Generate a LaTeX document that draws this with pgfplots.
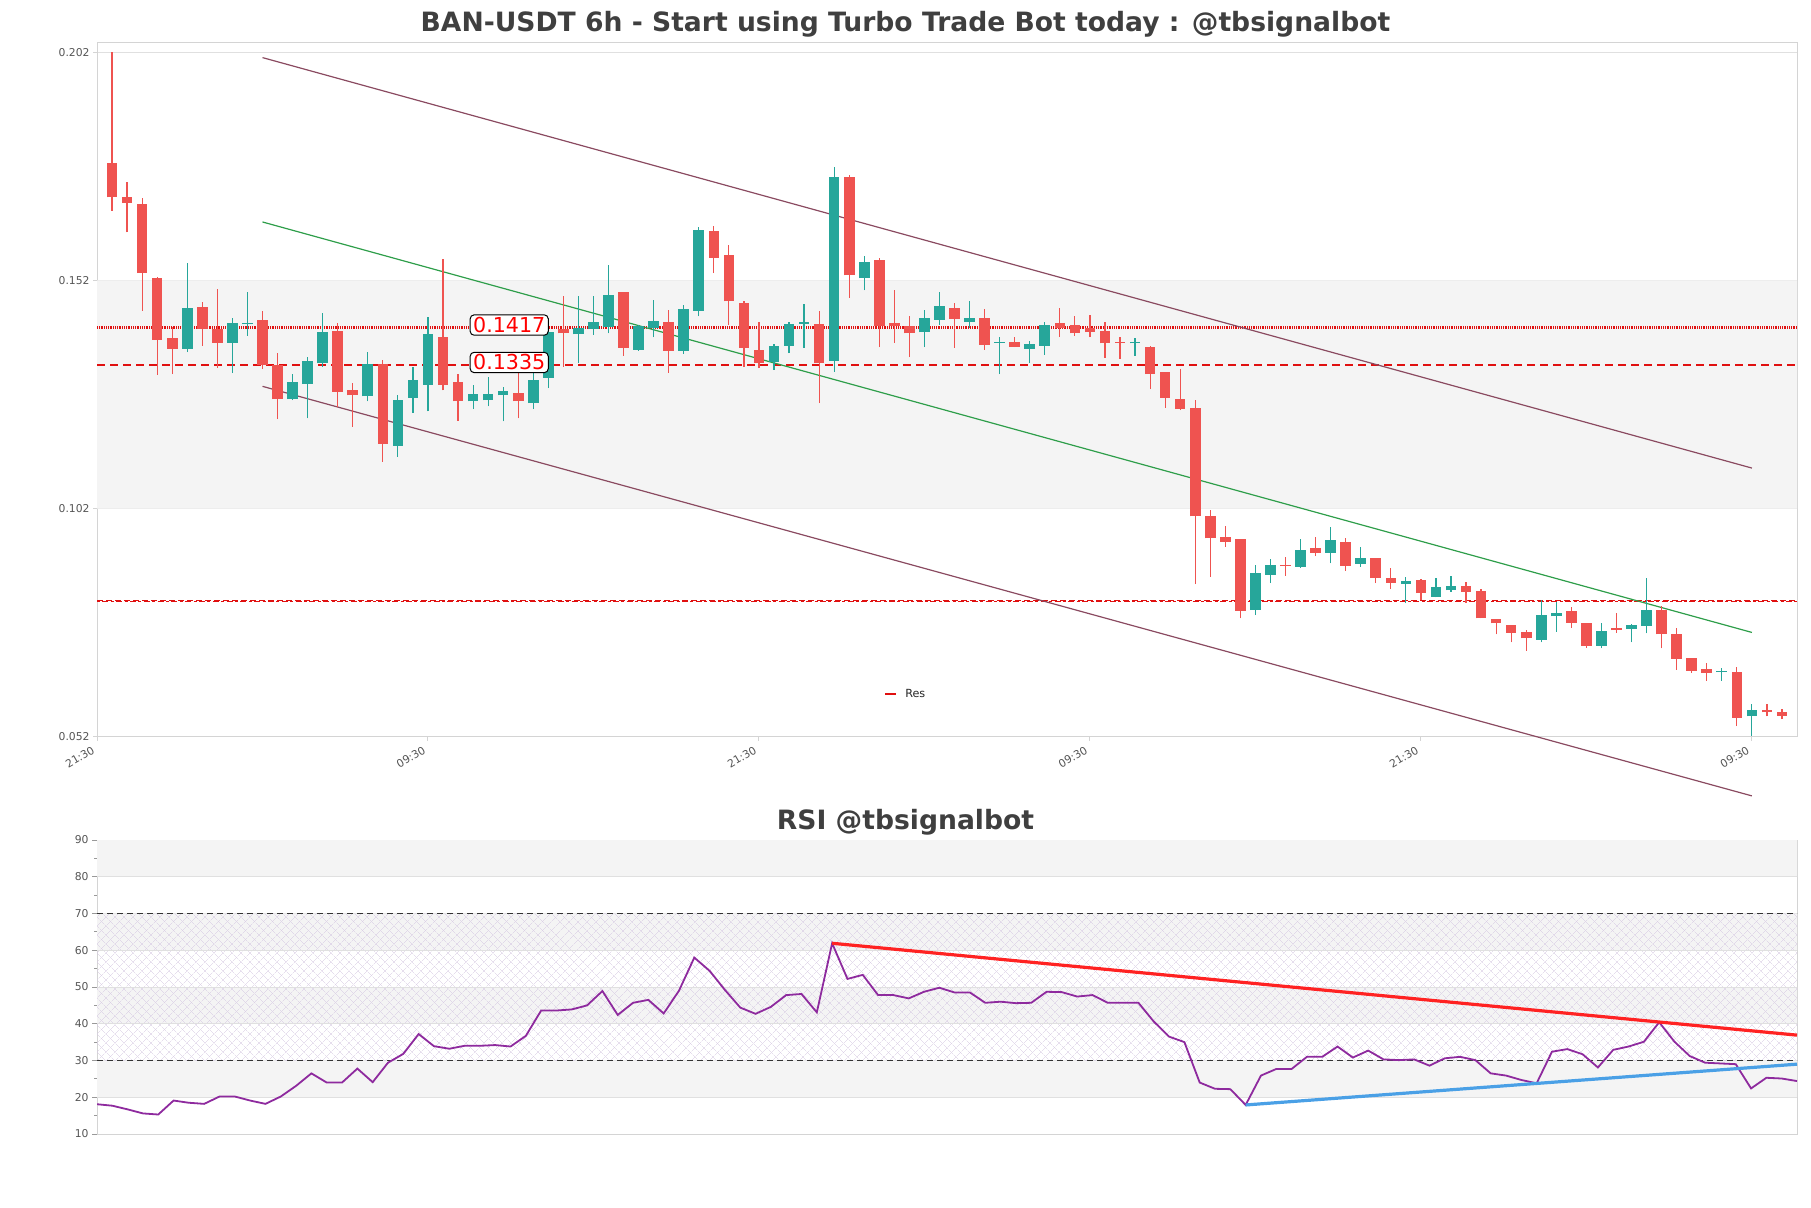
\documentclass[border=0pt]{standalone}
\usepackage{fontspec}
\setmainfont{DejaVu Sans}
\usepackage{pgfplots}
\pgfplotsset{compat=1.18}
\usepackage{pgfplotstable}
\usetikzlibrary{patterns.meta}

\definecolor{cgreen}{HTML}{26A69A}
\definecolor{cred}{HTML}{EF5350}
\definecolor{bandgray}{HTML}{F4F4F4}
\definecolor{gridgray}{HTML}{E0E0E0}
\definecolor{framegray}{HTML}{D4D4D4}
\definecolor{chan}{HTML}{8A4A60}
\definecolor{gline}{HTML}{2E9E4A}
\definecolor{titlegray}{HTML}{3F3F3F}
\definecolor{ticklab}{HTML}{555555}
\definecolor{rsipurple}{HTML}{8E2A9E}
\definecolor{hatchc}{HTML}{D8CCE4}
\definecolor{trendred}{HTML}{FF2222}
\definecolor{trendblue}{HTML}{4AA0E6}
\definecolor{resred}{HTML}{E01010}

\pgfplotstableread{
i o h l c
5 0.1370 0.1558 0.1363 0.1460
8 0.1384 0.1437 0.1317 0.1427
9 0.1424 0.1494 0.1399 0.1426
12 0.1260 0.1315 0.1258 0.1297
13 0.1294 0.1353 0.1218 0.1344
14 0.1339 0.1449 0.1331 0.1407
17 0.1266 0.1363 0.1255 0.1337
19 0.1158 0.1269 0.1134 0.1258
20 0.1263 0.1330 0.1230 0.1302
21 0.1291 0.1439 0.1233 0.1403
24 0.1255 0.1290 0.1238 0.1271
25 0.1257 0.1308 0.1244 0.1271
26 0.1268 0.1287 0.1211 0.1278
28 0.1251 0.1319 0.1238 0.1302
29 0.1307 0.1437 0.1284 0.1407
31 0.1402 0.1485 0.1339 0.1415
32 0.1413 0.1485 0.1401 0.1429
33 0.1418 0.1554 0.1404 0.1488
35 0.1368 0.1423 0.1366 0.1420
36 0.1415 0.1477 0.1395 0.1431
38 0.1366 0.1466 0.1359 0.1458
39 0.1454 0.1637 0.1441 0.1631
44 0.1342 0.1381 0.1324 0.1377
45 0.1377 0.1430 0.1361 0.1425
46 0.1425 0.1469 0.1372 0.1429
48 0.1344 0.1769 0.1320 0.1746
50 0.1525 0.1574 0.1498 0.1560
54 0.1406 0.1455 0.1374 0.1437
55 0.1434 0.1494 0.1423 0.1464
57 0.1430 0.1474 0.1415 0.1437
59 0.1383 0.1396 0.1315 0.1385
61 0.1370 0.1387 0.1340 0.1380
62 0.1377 0.1430 0.1357 0.1423
68 0.1382 0.1393 0.1355 0.1384
76 0.0798 0.0897 0.0787 0.0879
77 0.0875 0.0909 0.0857 0.0897
79 0.0893 0.0953 0.0890 0.0930
81 0.0924 0.0979 0.0900 0.0952
83 0.0899 0.0937 0.0893 0.0913
86 0.0855 0.0870 0.0813 0.0862
88 0.0827 0.0868 0.0826 0.0849
89 0.0841 0.0873 0.0838 0.0851
95 0.0733 0.0819 0.0727 0.0787
96 0.0784 0.0816 0.0751 0.0791
99 0.0720 0.0769 0.0714 0.0752
101 0.0756 0.0768 0.0727 0.0765
102 0.0764 0.0868 0.0747 0.0798
107 0.0662 0.0672 0.0643 0.0664
109 0.0565 0.0592 0.0522 0.0579
}\greentab

\pgfplotstableread{
i o h l c
0 0.1778 0.2020 0.1673 0.1702
1 0.1702 0.1735 0.1625 0.1689
2 0.1688 0.1700 0.1454 0.1536
3 0.1526 0.1528 0.1313 0.1390
4 0.1394 0.1419 0.1315 0.1370
6 0.1462 0.1472 0.1377 0.1414
7 0.1413 0.1501 0.1329 0.1384
10 0.1433 0.1452 0.1326 0.1335
11 0.1335 0.1361 0.1216 0.1260
15 0.1409 0.1426 0.1242 0.1276
16 0.1279 0.1295 0.1200 0.1268
18 0.1338 0.1346 0.1123 0.1162
22 0.1396 0.1567 0.1279 0.1291
23 0.1297 0.1315 0.1213 0.1255
27 0.1273 0.1324 0.1218 0.1255
30 0.1413 0.1486 0.1331 0.1404
34 0.1494 0.1494 0.1355 0.1372
37 0.1429 0.1455 0.1318 0.1366
40 0.1628 0.1639 0.1536 0.1570
41 0.1576 0.1598 0.1423 0.1474
42 0.1470 0.1474 0.1331 0.1373
43 0.1368 0.1430 0.1328 0.1339
47 0.1425 0.1452 0.1251 0.1339
49 0.1746 0.1751 0.1482 0.1531
51 0.1565 0.1569 0.1374 0.1420
52 0.1426 0.1499 0.1384 0.1420
53 0.1420 0.1442 0.1352 0.1404
56 0.1459 0.1470 0.1372 0.1436
58 0.1437 0.1457 0.1368 0.1379
60 0.1385 0.1396 0.1374 0.1375
63 0.1426 0.1459 0.1397 0.1415
64 0.1423 0.1442 0.1399 0.1404
65 0.1415 0.1445 0.1396 0.1407
66 0.1409 0.1429 0.1351 0.1382
67 0.1384 0.1396 0.1348 0.1383
69 0.1374 0.1377 0.1282 0.1315
70 0.1319 0.1319 0.1241 0.1263
71 0.1260 0.1325 0.1236 0.1238
72 0.1240 0.1258 0.0855 0.1003
73 0.1004 0.1017 0.0871 0.0955
74 0.0957 0.0982 0.0937 0.0948
75 0.0954 0.0954 0.0780 0.0796
78 0.0896 0.0915 0.0873 0.0894
80 0.0935 0.0957 0.0916 0.0924
82 0.0947 0.0955 0.0884 0.0895
84 0.0913 0.0913 0.0857 0.0868
85 0.0868 0.0890 0.0844 0.0858
87 0.0864 0.0865 0.0820 0.0835
90 0.0851 0.0859 0.0814 0.0838
91 0.0840 0.0844 0.0780 0.0780
92 0.0778 0.0778 0.0745 0.0769
93 0.0765 0.0765 0.0727 0.0748
94 0.0749 0.0754 0.0709 0.0736
97 0.0796 0.0805 0.0759 0.0770
98 0.0769 0.0769 0.0716 0.0720
100 0.0759 0.0791 0.0748 0.0754
103 0.0798 0.0807 0.0714 0.0745
104 0.0746 0.0758 0.0667 0.0691
105 0.0692 0.0692 0.0661 0.0665
106 0.0668 0.0683 0.0643 0.0661
108 0.0662 0.0673 0.0544 0.0562
110 0.0579 0.0592 0.0565 0.0574
111 0.0575 0.0581 0.0559 0.0567
}\redtab

\pgfplotstableread{
i r
0 18.1
1 17.7
2 16.7
3 15.6
4 15.3
5 19.1
6 18.5
7 18.2
8 20.2
9 20.2
10 19.1
11 18.2
12 20.2
13 23.1
14 26.5
15 24.0
16 24.0
17 27.8
18 24.1
19 29.4
20 31.8
21 37.2
22 33.9
23 33.2
24 34.0
25 34.0
26 34.2
27 33.8
28 36.7
29 43.6
30 43.6
31 43.9
32 45.0
33 48.9
34 42.4
35 45.7
36 46.5
37 42.8
38 49.0
39 58.0
40 54.4
41 49.2
42 44.4
43 42.7
44 44.6
45 47.8
46 48.1
47 43.1
48 61.9
49 52.2
50 53.3
51 47.8
52 47.8
53 46.9
54 48.7
55 49.8
56 48.5
57 48.5
58 45.7
59 46.0
60 45.6
61 45.7
62 48.7
63 48.6
64 47.4
65 47.8
66 45.7
67 45.7
68 45.7
69 40.6
70 36.5
71 35.0
72 24.0
73 22.3
74 22.2
75 17.9
76 25.9
77 27.7
78 27.7
79 31.0
80 31.0
81 33.8
82 30.8
83 32.7
84 30.3
85 30.1
86 30.3
87 28.6
88 30.6
89 31.0
90 30.1
91 26.5
92 25.9
93 24.7
94 23.8
95 32.4
96 33.1
97 31.7
98 28.1
99 32.9
100 33.8
101 35.1
102 40.4
103 35.1
104 31.2
105 29.4
106 29.2
107 29.0
108 22.4
109 25.3
110 25.1
111 24.4
}\rsitab

\tikzset{
  tickfont/.style={font=\fontsize{5.4bp}{6.5bp}\selectfont, text=ticklab},
}

\begin{document}
\begin{tikzpicture}
\path[use as bounding box] (0,0) rectangle (905.5bp,604bp);

\node[anchor=base, font=\fontsize{13.3bp}{16bp}\selectfont\bfseries, text=titlegray, inner sep=0pt]
  at (452.75bp,588.2bp) {BAN-USDT 6h - Start using Turbo Trade Bot today : @tbsignalbot};

\begin{axis}[
  at={(48.5bp,235.5bp)}, anchor=south west,
  width=850bp, height=347bp, scale only axis,
  xmin=-1, xmax=112, ymin=0.052, ymax=0.204,
  clip=false,
  axis line style={framegray, line width=0.5bp},
  tick style={framegray, line width=0.5bp},
  tick align=outside, tick pos=left,
  major tick length=2bp,
  xtick={-1,21,43,65,87,109},
  xticklabels={21:30,09:30,21:30,09:30,21:30,09:30},
  x tick label style={tickfont, rotate=30, anchor=north east, inner sep=1bp, xshift=-2.5bp, yshift=0.5bp},
  ytick={0.052,0.102,0.152,0.202},
  yticklabels={0.052,0.102,0.152,0.202},
  y tick label style={tickfont, inner sep=1.5bp},
  scaled y ticks=false,
  ymajorgrids, grid style={gridgray, line width=0.5bp},
]
% background band
\addplot[draw=none, fill=bandgray, forget plot]
  coordinates {(-1,0.102) (112,0.102) (112,0.152) (-1,0.152) (-1,0.102)};

% support / resistance lines
\addplot[resred, line width=1.4bp, dash pattern=on 0.5bp off 0.4bp, forget plot]
  coordinates {(-1,0.1417) (112,0.1417)};
\addplot[resred, line width=0.7bp, dash pattern=on 4bp off 2.5bp, forget plot]
  coordinates {(-1,0.1335) (112,0.1335)};
\addplot[resred, line width=0.6bp, dash pattern=on 3bp off 1.5bp, forget plot]
  coordinates {(-1,0.08195) (112,0.08195)};
\addplot[resred, line width=0.6bp, dash pattern=on 1.5bp off 1.2bp on 3bp off 1.2bp, forget plot]
  coordinates {(-1,0.08160) (112,0.08160)};

% channel
\addplot[chan, line width=0.6bp, forget plot] coordinates {(10,0.2008) (109,0.1109)};
\addplot[gline, line width=0.6bp, forget plot] coordinates {(10,0.1648) (109,0.0749)};
\addplot[chan, line width=0.6bp, forget plot] coordinates {(10,0.1288) (109,0.0391)};

% wicks
\addplot[cgreen, line width=0.6bp, forget plot,
  quiver={u=0, v=\thisrow{h}-\thisrow{l}}]
  table[x=i, y=l] {\greentab};
\addplot[cred, line width=0.6bp, forget plot,
  quiver={u=0, v=\thisrow{h}-\thisrow{l}}]
  table[x=i, y=l] {\redtab};
% bodies
\addplot[cgreen, line width=5.3bp, line cap=butt, forget plot,
  quiver={u=0, v={max(\thisrow{c}-\thisrow{o},0.00025)}}]
  table[x=i, y=o] {\greentab};
\addplot[cred, line width=5.3bp, line cap=butt, forget plot,
  quiver={u=0, v={max(\thisrow{o}-\thisrow{c},0.00025)}}]
  table[x=i, y=c] {\redtab};

% level labels
\node[draw=black, fill=white, rounded corners=2bp, text=red, line width=0.5bp,
  font=\fontsize{10.3bp}{12bp}\selectfont, inner xsep=1.5bp, inner ysep=1.2bp, yshift=1.2bp]
  at (axis cs:26.4,0.1417) {0.1417};
\node[draw=black, fill=white, rounded corners=2bp, text=red, line width=0.5bp,
  font=\fontsize{10.3bp}{12bp}\selectfont, inner xsep=1.5bp, inner ysep=1.2bp, yshift=1.2bp]
  at (axis cs:26.4,0.1335) {0.1335};

% legend
\draw[resred, line width=1.3bp] (axis cs:51.4,0.0614) -- (axis cs:52.1,0.0614);
\node[anchor=west, inner sep=0pt, font=\fontsize{5.6bp}{6.5bp}\selectfont, text=black!85]
  at (axis cs:52.7,0.0616) {Res};
\end{axis}

\node[anchor=base, font=\fontsize{13.3bp}{16bp}\selectfont\bfseries, text=titlegray, inner sep=0pt]
  at (452.75bp,189.4bp) {RSI @tbsignalbot};

\begin{axis}[
  at={(48.5bp,37bp)}, anchor=south west,
  width=850bp, height=147bp, scale only axis,
  xmin=0, xmax=111, ymin=10, ymax=90,
  axis line style={framegray, line width=0.5bp},
  tick style={ticklab!60, line width=0.4bp},
  tick align=outside, tick pos=left,
  major tick length=2.5bp, minor tick length=1.5bp,
  xtick=\empty,
  ytick={10,20,...,90},
  minor ytick={15,25,...,85},
  /pgf/number format/assume math mode=true,
  y tick label style={tickfont, inner sep=1.5bp},
  ymajorgrids, grid style={gridgray, line width=0.5bp},
]
\addplot[draw=none, fill=bandgray, forget plot]
  coordinates {(0,80) (111,80) (111,90) (0,90) (0,80)};
\addplot[draw=none, fill=bandgray, forget plot]
  coordinates {(0,60) (111,60) (111,70) (0,70) (0,60)};
\addplot[draw=none, fill=bandgray, forget plot]
  coordinates {(0,40) (111,40) (111,50) (0,50) (0,40)};
\addplot[draw=none, fill=bandgray, forget plot]
  coordinates {(0,20) (111,20) (111,30) (0,30) (0,20)};
\addplot[draw=none, forget plot,
  pattern={Lines[angle=45,distance=3.6bp,line width=0.25bp]}, pattern color=hatchc]
  coordinates {(0,30) (111,30) (111,70) (0,70) (0,30)};
\addplot[draw=none, forget plot,
  pattern={Lines[angle=-45,distance=3.6bp,line width=0.25bp]}, pattern color=hatchc]
  coordinates {(0,30) (111,30) (111,70) (0,70) (0,30)};
\addplot[gridgray, line width=0.5bp, forget plot] coordinates {(0,40) (111,40)};
\addplot[gridgray, line width=0.5bp, forget plot] coordinates {(0,50) (111,50)};
\addplot[gridgray, line width=0.5bp, forget plot] coordinates {(0,60) (111,60)};
\addplot[gridgray, line width=0.5bp, forget plot] coordinates {(0,80) (111,80)};
\addplot[gridgray, line width=0.5bp, forget plot] coordinates {(0,20) (111,20)};

\addplot[black!80, line width=0.5bp, dash pattern=on 3bp off 2bp, forget plot]
  coordinates {(0,70) (111,70)};
\addplot[black!80, line width=0.5bp, dash pattern=on 3bp off 2bp, forget plot]
  coordinates {(0,30) (111,30)};

\addplot[rsipurple, line width=0.9bp, forget plot] table[x=i, y=r] {\rsitab};

\addplot[trendred, line width=1.6bp, forget plot] coordinates {(48,61.9) (111,36.9)};
\addplot[trendblue, line width=1.6bp, forget plot] coordinates {(75,17.9) (111,29.0)};
\end{axis}
\end{tikzpicture}
\end{document}
